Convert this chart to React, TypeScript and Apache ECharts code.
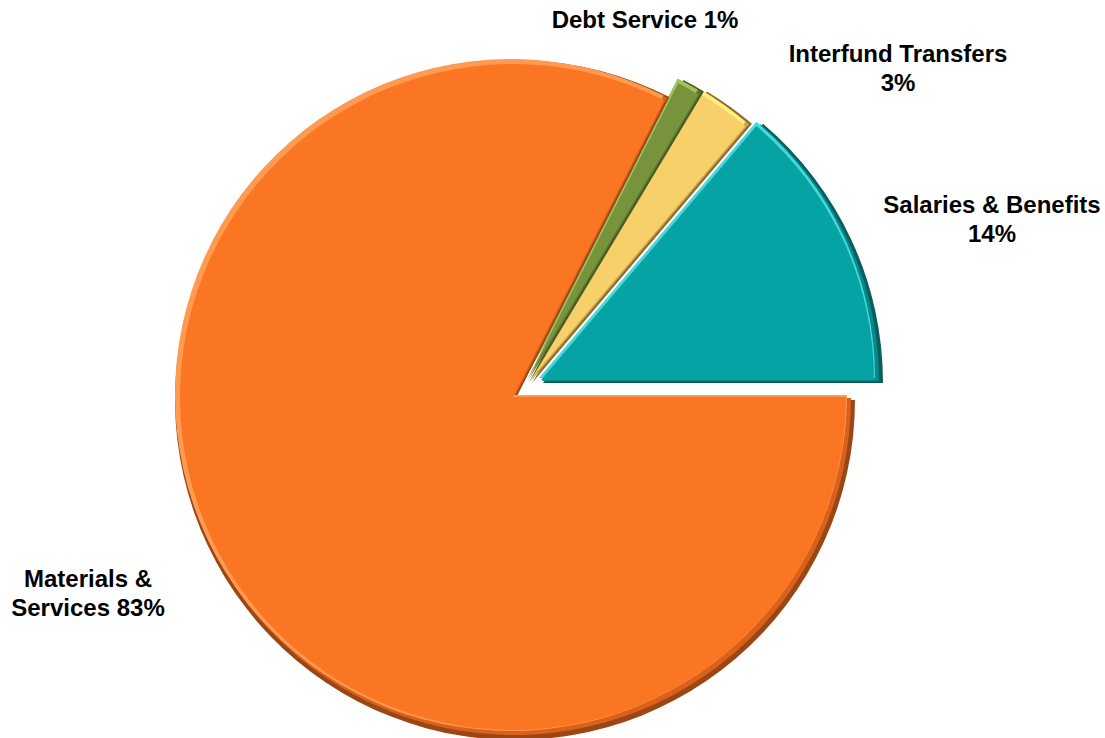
import React, { useEffect, useRef } from "react";
import * as echarts from "echarts";

// ---- data ----
const categories = ["Salaries & Benefits", "Interfund Transfers", "Debt Service", "Materials & Services"];
const values = [13.8, 2.6, 1.1, 82.5];
const labelPrefixes = ["Salaries & Benefits\n", "Interfund Transfers\n", "Debt Service ", "Materials &\nServices "];

// ---- styles / layout ----
const mainColors = ["#06A3A5", "#F8D06A", "#77933C", "#FA7623"];
const lightColors = ["#49D8DA", "#FFF07C", "#A2C15F", "#FF9A52"];
const midColors = ["#078A8B", "#C9A451", "#5E7630", "#D9611C"];
const darkColors = ["#0A5E5E", "#8C6B2C", "#465A22", "#9A4715"];
const sliceCenters = [
  [541, 380],
  [530, 380],
  [527, 380],
  [513, 397],
];
const labelPos = [
  [992, 219],
  [898, 68],
  [645, 19],
  [88, 593],
];
const RADIUS = 341;

export default function App() {
  const ref = useRef<HTMLDivElement>(null);
  useEffect(() => {
    document.body.style.margin = "0";
    document.body.style.overflow = "hidden";
    const chart = echarts.init(ref.current!, null, { renderer: "svg" });
    const total = values.reduce((a, b) => a + b, 0);

    const layers = [
      { key: "dark", dx: 2, dy: 3, r: RADIUS - 1, colors: darkColors },
      { key: "mid", dx: 1, dy: 1, r: RADIUS - 4, colors: midColors },
      { key: "light", dx: -2, dy: -2, r: RADIUS - 5, colors: lightColors },
      { key: "main", dx: 0, dy: 0, r: RADIUS - 8, colors: mainColors },
    ];

    const series: any[] = [];
    categories.forEach((_, i) => {
      layers.forEach((layer) => {
        const isMain = layer.key === "main";
        series.push({
          type: "pie",
          name: categories[i] + "-" + layer.key,
          center: [sliceCenters[i][0] + layer.dx, sliceCenters[i][1] + layer.dy],
          radius: [0, layer.r],
          startAngle: 0,
          clockwise: false,
          silent: true,
          avoidLabelOverlap: false,
          emphasis: { disabled: true },
          labelLine: { show: false },
          itemStyle: { borderWidth: 0 },
          label: {
            show: false,
            position: "outside",
            fontFamily: "Liberation Sans, Arial, sans-serif",
            fontWeight: "bold",
            fontSize: 24,
            lineHeight: 29,
            color: "#000",
            align: "center",
            formatter: (p: any) =>
              labelPrefixes[p.dataIndex] + Math.round((values[p.dataIndex] / total) * 100) + "%",
          },
          labelLayout: isMain
            ? () => ({ x: labelPos[i][0], y: labelPos[i][1], align: "center", verticalAlign: "middle" })
            : undefined,
          data: categories.map((name, j) => ({
            name,
            value: values[j],
            itemStyle: { color: j === i ? layer.colors[i] : "rgba(0,0,0,0)", borderWidth: 0 },
            label: { show: isMain && j === i },
          })),
        });
      });
    });

    chart.setOption({
      animation: false,
      backgroundColor: "#ffffff",
      series,
    });
    return () => chart.dispose();
  }, []);
  return <div ref={ref} style={{ width: 1105, height: 738 }} />;
}
